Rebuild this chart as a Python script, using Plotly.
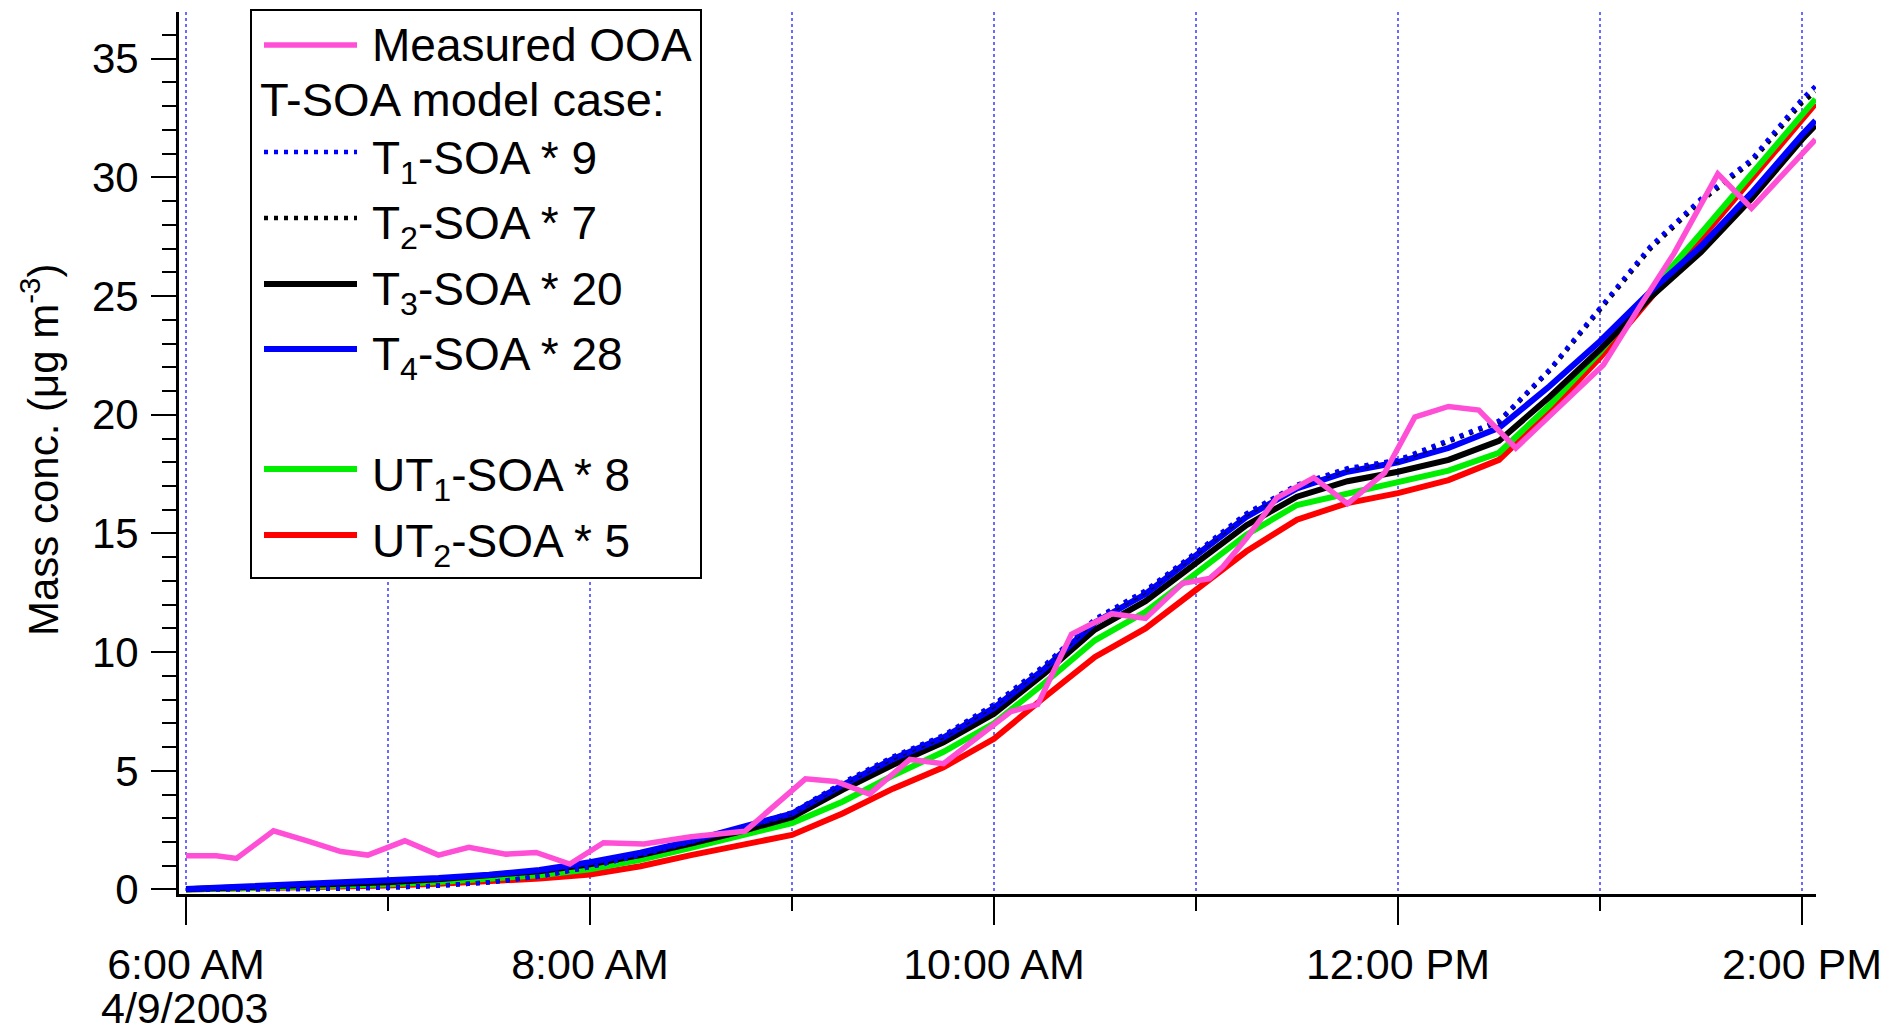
import plotly.graph_objects as go

DAY = "2003-04-09 "

# ---- model output (15-min steps) ----
model_times = ["06:00", "06:15", "06:30", "06:45", "07:00", "07:15", "07:30", "07:45",
               "08:00", "08:15", "08:30", "08:45", "09:00", "09:15", "09:30", "09:45",
               "10:00", "10:15", "10:30", "10:45", "11:00", "11:15", "11:30", "11:45",
               "12:00", "12:15", "12:30", "12:45", "13:00", "13:15", "13:30", "13:45",
               "14:00", "14:04"]

t1_soa = [0.00, 0.00, 0.01, 0.03, 0.08, 0.16, 0.30, 0.55, 0.95, 1.45, 2.00, 2.60,
          3.25, 4.50, 5.60, 6.50, 7.80, 9.45, 11.40, 12.60, 14.20, 15.85, 17.05, 17.75,
          18.10, 18.90, 19.75, 21.90, 24.50, 27.10, 29.10, 30.75, 33.30, 33.85]
t2_soa = [0.00, 0.00, 0.01, 0.03, 0.08, 0.16, 0.30, 0.55, 0.95, 1.45, 2.00, 2.58,
          3.22, 4.45, 5.55, 6.45, 7.75, 9.40, 11.35, 12.55, 14.15, 15.80, 17.00, 17.70,
          18.05, 18.85, 19.70, 21.85, 24.45, 27.00, 29.00, 30.65, 33.15, 33.60]
t3_soa = [0.01, 0.08, 0.15, 0.23, 0.31, 0.43, 0.57, 0.77, 1.06, 1.45, 1.93, 2.45,
          3.05, 4.20, 5.25, 6.20, 7.40, 9.10, 10.95, 12.15, 13.75, 15.35, 16.55, 17.20,
          17.60, 18.10, 18.90, 20.75, 22.75, 24.95, 26.85, 29.10, 31.60, 32.20]
t4_soa = [0.02, 0.10, 0.18, 0.26, 0.35, 0.48, 0.62, 0.82, 1.15, 1.55, 2.05, 2.60,
          3.20, 4.40, 5.50, 6.40, 7.65, 9.30, 11.25, 12.45, 14.05, 15.70, 16.90, 17.60,
          18.00, 18.60, 19.45, 21.20, 23.10, 25.20, 27.10, 29.35, 31.80, 32.40]
ut1_soa = [0.00, 0.05, 0.10, 0.16, 0.22, 0.32, 0.45, 0.60, 0.85, 1.25, 1.75, 2.25,
           2.80, 3.70, 4.80, 5.80, 7.00, 8.70, 10.50, 11.70, 13.35, 14.95, 16.20, 16.70,
           17.15, 17.65, 18.40, 20.40, 22.65, 25.20, 27.65, 30.10, 32.60, 33.30]
ut2_soa = [0.00, 0.03, 0.07, 0.12, 0.17, 0.24, 0.34, 0.46, 0.63, 0.98, 1.45, 1.90,
           2.30, 3.20, 4.25, 5.15, 6.35, 8.10, 9.80, 11.00, 12.64, 14.25, 15.58, 16.28,
           16.70, 17.25, 18.10, 20.15, 22.40, 24.90, 27.40, 29.90, 32.40, 33.10]

# ---- measured OOA (AMS) ----
ooa_times = ["06:00", "06:09", "06:15", "06:26", "06:36", "06:46", "06:54", "07:05",
             "07:15", "07:24", "07:35", "07:44", "07:54", "08:04", "08:16", "08:30",
             "08:46", "09:04", "09:13", "09:23", "09:35", "09:45", "10:05", "10:13",
             "10:23", "10:35", "10:45", "10:56", "11:04", "11:08", "11:15", "11:24",
             "11:35", "11:45", "11:56", "12:05", "12:15", "12:24", "12:35", "13:01",
             "13:12", "13:22", "13:35", "13:45", "14:04"]
ooa_vals = [1.42, 1.42, 1.31, 2.47, 2.05, 1.60, 1.45, 2.05,
            1.45, 1.78, 1.49, 1.56, 1.07, 1.97, 1.92, 2.22,
            2.45, 4.66, 4.55, 4.02, 5.48, 5.30, 7.50, 7.80,
            10.75, 11.62, 11.42, 12.90, 13.10, 13.60, 14.80, 16.50,
            17.35, 16.25, 17.55, 19.90, 20.35, 20.20, 18.60, 22.10,
            24.60, 26.80, 30.15, 28.70, 31.60]

# ---- axis ticks ----
major_hours = ["06:00", "08:00", "10:00", "12:00", "14:00"]
major_labels = ["6:00 AM", "8:00 AM", "10:00 AM", "12:00 PM", "2:00 PM"]
minor_hours = ["07:00", "09:00", "11:00", "13:00"]
date_label = "4/9/2003"
y_ticks = [0, 5, 10, 15, 20, 25, 30, 35]

FONT = "Liberation Sans, Arial, sans-serif"
PINK = "#ff4fd6"
GREEN = "#00ee00"
GRID = "#6b6bff"
DOTS = "4px,6px"
SOLID_W = 6
DOT_W = 4.5

# canvas geometry (px)
W, H = 1895, 1033
ML, MR, MT, MB = 179, 79, 12, 139
PW, PH = W - ML - MR, H - MT - MB


def px_x(x):
    return (x - ML) / PW


def px_y(y):
    return (H - MB - y) / PH


def stamp(ts):
    return [DAY + t for t in ts]


series = [
    # name, values, colour, width, dash
    ("UT<sub>2</sub>-SOA * 5", ut2_soa, "#ff0000", SOLID_W, "solid"),
    ("UT<sub>1</sub>-SOA * 8", ut1_soa, GREEN, SOLID_W, "solid"),
    ("T<sub>3</sub>-SOA * 20", t3_soa, "#000000", SOLID_W, "solid"),
    ("T<sub>4</sub>-SOA * 28", t4_soa, "#0000ff", SOLID_W, "solid"),
    ("T<sub>2</sub>-SOA * 7", t2_soa, "#000000", DOT_W, DOTS),
    ("T<sub>1</sub>-SOA * 9", t1_soa, "#0000ff", DOT_W, DOTS),
]

fig = go.Figure()
for name, vals, col, w, dash in series:
    fig.add_trace(go.Scatter(x=stamp(model_times), y=vals, mode="lines", name=name,
                             line=dict(color=col, width=w, dash=dash), showlegend=False))
fig.add_trace(go.Scatter(x=stamp(ooa_times), y=ooa_vals, mode="lines", name="Measured OOA",
                         line=dict(color=PINK, width=5.5), showlegend=False))

fig.update_layout(
    width=W, height=H,
    margin=dict(l=ML, r=MR, t=MT, b=MB, pad=0),
    paper_bgcolor="white", plot_bgcolor="white",
    font=dict(family=FONT, size=42, color="black"),
    showlegend=False,
)

fig.update_xaxes(
    type="date", automargin=False,
    range=[DAY + "05:57:55", DAY + "14:04:10"],
    tickmode="array", tickvals=stamp(major_hours), ticktext=major_labels,
    ticks="outside", ticklen=28, tickwidth=2, tickcolor="black",
    ticklabelstandoff=2,
    tickfont=dict(family=FONT, size=43, color="black"),
    showline=True, linecolor="black", linewidth=3,
    showgrid=True, gridcolor=GRID, gridwidth=2, griddash="dot",
    zeroline=False, mirror=False,
    minor=dict(tickmode="array", tickvals=stamp(minor_hours), ticks="outside",
               ticklen=14, tickwidth=2, tickcolor="black",
               showgrid=True, gridcolor=GRID, gridwidth=2, griddash="dot"),
)

fig.update_yaxes(
    automargin=False,
    range=[-0.19, 36.97],
    tickmode="array", tickvals=y_ticks,
    ticks="outside", ticklen=25, tickwidth=2, tickcolor="black",
    ticklabelstandoff=4,
    tickfont=dict(family=FONT, size=42, color="black"),
    showline=True, linecolor="black", linewidth=3,
    showgrid=False, zeroline=False, mirror=False,
    minor=dict(tickmode="linear", tick0=0, dtick=1, ticks="outside",
               ticklen=14, tickwidth=2, tickcolor="black", showgrid=False),
)

# date line under the first time label
fig.add_annotation(xref="paper", yref="paper", x=px_x(184), y=px_y(1033),
                   text=date_label, showarrow=False, xanchor="center", yanchor="bottom",
                   borderpad=0, font=dict(family=FONT, size=43, color="black"))

# y-axis title
fig.add_annotation(
    xref="paper", yref="paper", x=px_x(40), y=px_y(450),
    text="Mass conc. (μg m<sup>-3</sup>)", textangle=-90, showarrow=False,
    xanchor="center", yanchor="middle", font=dict(family=FONT, size=42, color="black"),
)

# ---- legend box ----
fig.add_shape(type="rect", xref="paper", yref="paper",
              x0=px_x(251), x1=px_x(701), y0=px_y(578), y1=px_y(10),
              line=dict(color="black", width=2), fillcolor="white", layer="above")

legend_rows = [
    # label, colour, width, dash, row centre (px)
    ("Measured OOA", PINK, 5.5, "solid", 45),
    ("T<sub>1</sub>-SOA * 9", "#0000ff", DOT_W, DOTS, 152),
    ("T<sub>2</sub>-SOA * 7", "#000000", DOT_W, DOTS, 218),
    ("T<sub>3</sub>-SOA * 20", "#000000", SOLID_W, "solid", 284),
    ("T<sub>4</sub>-SOA * 28", "#0000ff", SOLID_W, "solid", 349),
    ("UT<sub>1</sub>-SOA * 8", GREEN, SOLID_W, "solid", 469),
    ("UT<sub>2</sub>-SOA * 5", "#ff0000", SOLID_W, "solid", 535),
]
for label, col, w, dash, yc in legend_rows:
    fig.add_shape(type="line", xref="paper", yref="paper",
                  x0=px_x(264), x1=px_x(357), y0=px_y(yc), y1=px_y(yc),
                  line=dict(color=col, width=w, dash=dash), layer="above")
    has_sub = "<sub>" in label
    fig.add_annotation(xref="paper", yref="paper", x=px_x(370),
                       y=px_y(yc + (9 if has_sub else 0)),
                       text=label, showarrow=False, xanchor="left", yanchor="middle",
                       font=dict(family=FONT, size=46, color="black"))

fig.add_annotation(xref="paper", yref="paper", x=px_x(258), y=px_y(100),
                   text="T-SOA model case:", showarrow=False, xanchor="left",
                   yanchor="middle", font=dict(family=FONT, size=47, color="black"))

fig.write_html("out.html")
